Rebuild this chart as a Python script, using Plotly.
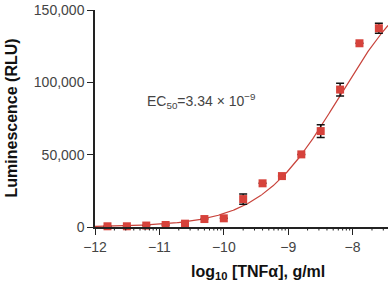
import numpy as np
import plotly.graph_objects as go

# data
log_conc = [-11.806, -11.505, -11.204, -10.903, -10.602, -10.301, -10.0, -9.699,
            -9.398, -9.097, -8.796, -8.495, -8.194, -7.893, -7.592]
rlu = [500, 500, 1000, 1400, 2300, 5500, 6000, 19300,
       30200, 35200, 50200, 66300, 95000, 127000, 137400]
rlu_err = [0, 0, 0, 0, 0, 0, 0, 3500, 0, 0, 0, 4400, 4400, 0, 3500]

# fitted 4PL parameters (curve)
fit_bottom = 0
fit_top = 180000
fit_logec50 = -8.207
fit_hill = 0.706

x_ticks = [-12, -11, -10, -9, -8]
y_ticks = [0, 50000, 100000, 150000]
x_range = [-12, -7.45]
y_range = [0, 150000]

xc = np.linspace(-12, -7.45, 300)
yc = fit_bottom + (fit_top - fit_bottom) / (1 + 10 ** (fit_hill * (fit_logec50 - xc)))

minor_vals = [d + np.log10(k) for d in range(-12, -7) for k in range(2, 10)]
minor_vals = [round(float(v), 4) for v in minor_vals if v <= x_range[1]]

fig = go.Figure()
fig.add_trace(go.Scatter(x=xc, y=yc, mode="lines",
                         line=dict(color="#c8433b", width=1.2),
                         hoverinfo="skip", cliponaxis=False))
fig.add_trace(go.Scatter(x=log_conc, y=rlu, mode="markers",
                         marker=dict(symbol="square", size=8, color="#d6423b"),
                         error_y=dict(type="data", array=rlu_err, visible=True,
                                      color="#111111", thickness=1.5, width=4),
                         cliponaxis=False))

font_family = "Liberation Sans, Arial, sans-serif"
title_family = "Liberation Sans Narrow, Arial Narrow, Liberation Sans, sans-serif"

annotations = [
    dict(text="Luminescence (RLU)", textangle=-90, showarrow=False,
         xref="paper", yref="paper", x=-(95 - 11) / 293, y=0.5,
         xanchor="center", yanchor="middle",
         font=dict(family=title_family, size=16, color="#111111", weight="bold")),
    dict(text="log<sub>10</sub> [TNFα], g/ml", showarrow=False,
         xref="paper", yref="paper", x=(258 - 95) / 293, y=-(272 - 227) / 217,
         xanchor="center", yanchor="middle",
         font=dict(family=title_family, size=16, color="#111111", weight="bold")),
    dict(text="EC<sub>50</sub>=3.34 × 10<sup>−9</sup>", showarrow=False,
         xref="paper", yref="paper", x=(145 - 95) / 293, y=(227 - 101) / 217,
         xanchor="left", yanchor="middle",
         font=dict(family=font_family, size=14, color="#444444")),
]
# minor log ticks under the x axis, drawn as short arrow-less annotation lines
for v in minor_vals:
    annotations.append(dict(
        x=v, y=0, xref="x", yref="y", text="", showarrow=True,
        arrowhead=0, arrowwidth=1, arrowcolor="#222222",
        ax=0, ay=5, axref="pixel", ayref="pixel",
        standoff=0, startstandoff=0, font=dict(size=1)))

fig.update_layout(
    width=388, height=292,
    margin=dict(l=95, r=0, t=10, b=65),
    plot_bgcolor="white", paper_bgcolor="white",
    showlegend=False,
    font=dict(family=font_family, size=14, color="#444444"),
    xaxis=dict(range=x_range, tickmode="array", tickvals=x_ticks,
               showgrid=False, zeroline=False,
               showline=True, linecolor="#222222", linewidth=1.5,
               ticks="outside", ticklen=6, tickwidth=1.3, tickcolor="#222222",
               tickfont=dict(size=14, color="#444444")),
    yaxis=dict(range=y_range, tickmode="array", tickvals=y_ticks, tickformat=",d",
               showgrid=False, zeroline=False,
               showline=True, linecolor="#222222", linewidth=1.5,
               ticks="outside", ticklen=6, tickwidth=1.2, tickcolor="#222222",
               tickfont=dict(size=14, color="#444444")),
    annotations=annotations,
)

fig.write_html("out.html")
